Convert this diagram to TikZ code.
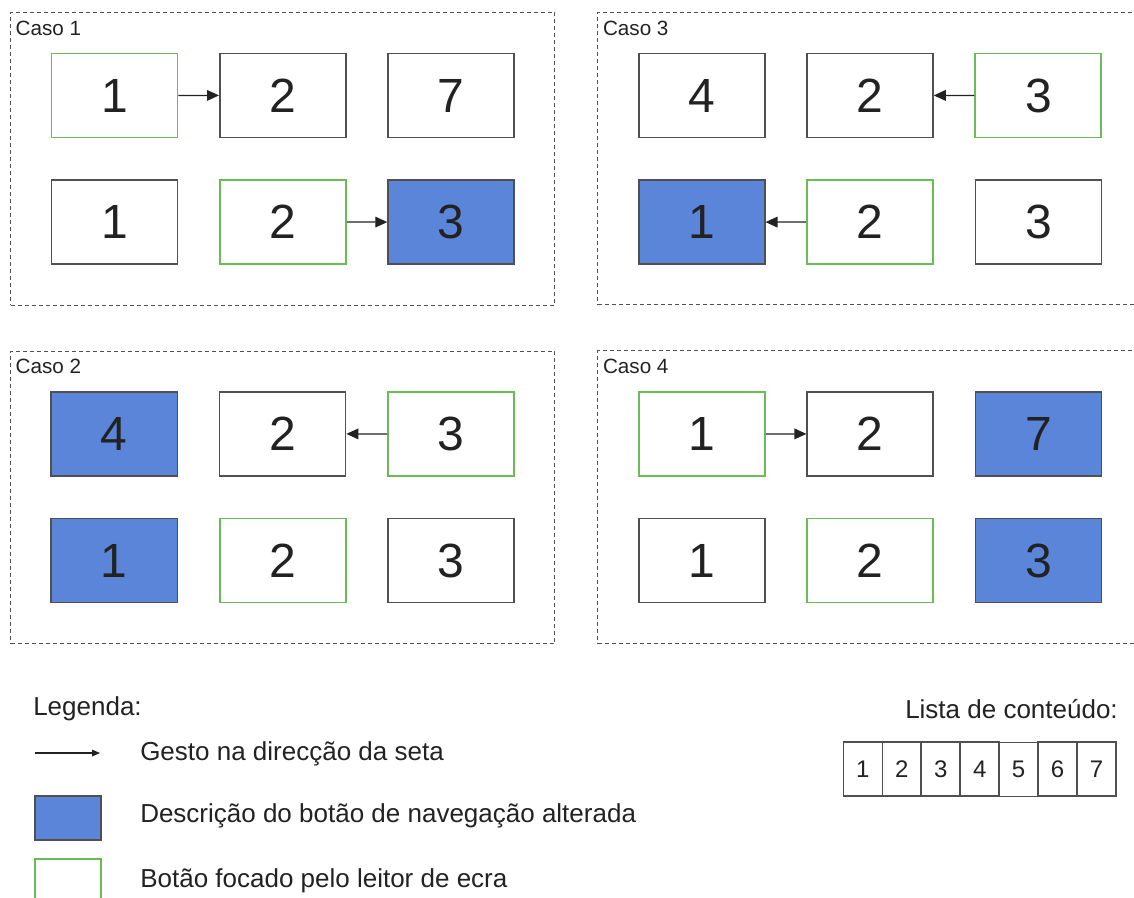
\documentclass[tikz,border=0pt]{standalone}
\usepackage{fontspec}
\setmainfont{Liberation Sans}
\usetikzlibrary{matrix,positioning,arrows.meta}

\definecolor{mudou}{RGB}{91,133,217}
\definecolor{foco}{RGB}{104,190,84}
\definecolor{borda}{RGB}{80,80,80}
\definecolor{tinta}{RGB}{34,34,34}

\begin{document}
\begin{tikzpicture}[
    x=0.75pt, y=-0.75pt,
    caso/.style={matrix of nodes, draw=borda, dash pattern=on 3pt off 2.25pt, line width=0.75pt,
        % espaco entre a caixa tracejada e os botoes
        inner sep=30pt,
        column sep=30.4pt,
        row sep=30.4pt,
        anchor=north west, nodes={btn}},
    btn/.style={draw=borda, solid, line width=1.2pt, fill=white, minimum width=94.5pt, minimum height=63pt,
        inner sep=0pt, text=tinta, font=\fontsize{36}{40}\selectfont},
    foc/.style={draw=foco, line width=1.4pt},
    alt/.style={fill=mudou, draw=borda},
    lbl/.style={anchor=north west, inner sep=3pt, xshift=1pt, yshift=-3.5pt, text=tinta, font=\fontsize{15.5}{18}\selectfont},
    gesto/.style={-{Triangle[length=9pt,width=8pt]}, draw=tinta, line width=0.9pt},
    leg/.style={anchor=west, inner sep=0pt, text=tinta, font=\fontsize{19.5}{23}\selectfont},
    cel/.style={draw=borda, solid, line width=1.2pt, minimum width=29.2pt, minimum height=40.5pt,
        inner sep=0pt, text=tinta, font=\fontsize{18}{21}\selectfont}
]
    \useasboundingbox (0,0) rectangle (1134,897);

    % Caso 1
    \matrix (caso1) [caso] at (10,12) {
        |[foc]| 1 & 2 & 7 \\
        1 & |[foc]| 2 & |[alt]| 3 \\
    };
    \node[lbl] at (caso1.north west) (lbl1) {Caso 1};
    \draw[gesto] (caso1-1-1) -- (caso1-1-2);
    \draw[gesto] (caso1-2-2) -- (caso1-2-3);

    % Caso 3
    \matrix (caso3) [caso, right=31.5pt of caso1] {
        4 & 2 & |[foc]| 3 \\
        |[alt]| 1 & |[foc]| 2 & 3 \\
    };
    \node[lbl] at (caso3.north west) (lbl3) {Caso 3};
    \draw[gesto] (caso3-1-3) -- (caso3-1-2);
    \draw[gesto] (caso3-2-2) -- (caso3-2-1);

    % Caso 2
    \matrix (caso2) [caso, below=33.75pt of caso1] {
        |[alt]| 4 & 2 & |[foc]| 3 \\
        |[alt]| 1 & |[foc]| 2 & 3 \\
    };
    \node[lbl] at (caso2.north west) (lbl2) {Caso 2};
    \draw[gesto] (caso2-1-3) -- (caso2-1-2);

    % Caso 4
    \matrix (caso4) [caso, below=33.75pt of caso3] {
        |[foc]| 1 & 2 & |[alt]| 7 \\
        1 & |[foc]| 2 & |[alt]| 3 \\
    };
    \node[lbl] at (caso4.north west) (lbl4) {Caso 4};
    \draw[gesto] (caso4-1-1) -- (caso4-1-2);

    % Legenda
    \node[leg] at (33,709) (legtit) {Legenda:};
    \coordinate (seta-a) at (35,753);
    \coordinate (seta-b) at (100,753);
    \draw[gesto, -{Triangle[length=6pt,width=5pt]}] (seta-a) -- (seta-b);
    \node[leg] at (140,754) (legseta) {Gesto na direcção da seta};
    \node[btn, alt, minimum width=49.5pt, minimum height=33pt, anchor=north west] at (34,795) (legalt) {};
    \node[leg] at (140,816) (legtxtalt) {Descrição do botão de navegação alterada};
    \node[btn, foc, minimum width=49.5pt, minimum height=33pt, anchor=north west] at (34,858) (legfoc) {};
    \node[leg] at (140,881) (legtxtfoc) {Botão focado pelo leitor de ecra};

    % Lista de conteudo
    \node[leg, anchor=east] at (1118,709) (lstit) {Lista de conteúdo:};
    \matrix (lista) [matrix of nodes, nodes={cel}, column sep=-1.2pt, inner sep=0pt, anchor=north east] at (1117,741) {
        1 & 2 & 3 & 4 & 5 & 6 & 7 \\
    };
\end{tikzpicture}
\end{document}
